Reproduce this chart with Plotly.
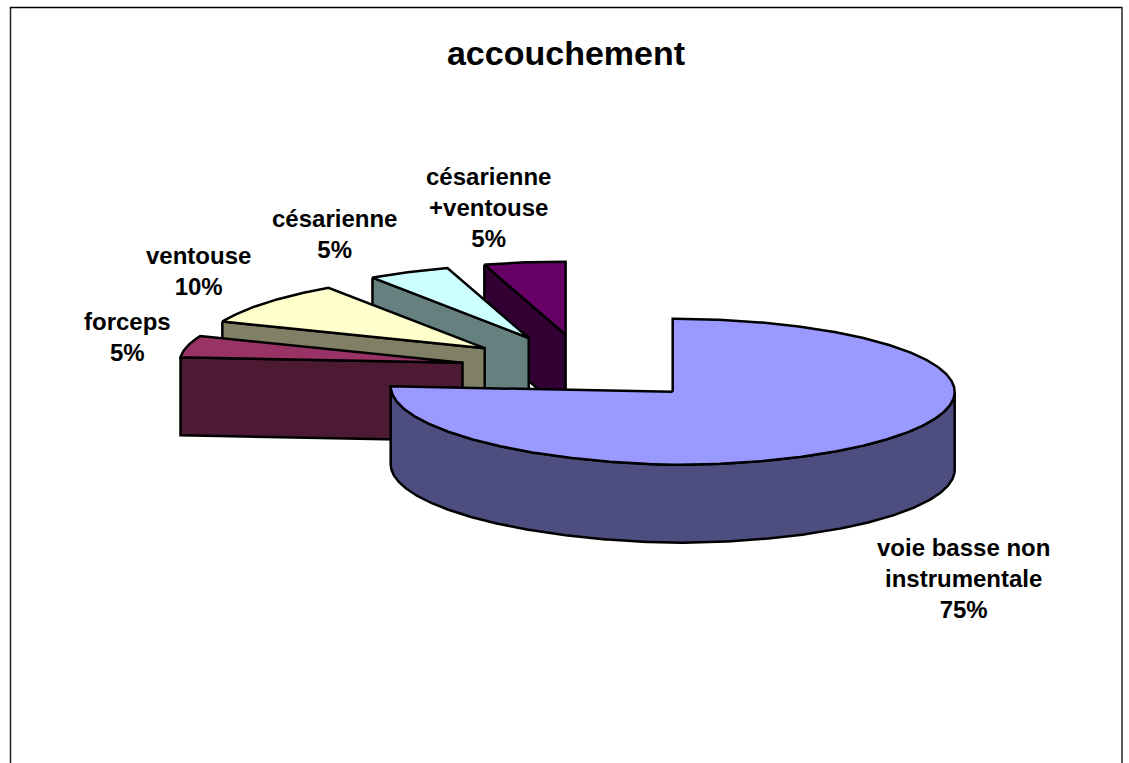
import numpy as np
import plotly.graph_objects as go

categories = ["voie basse non<br>instrumentale", "forceps", "ventouse", "césarienne", "césarienne<br>+ventouse"]
values = [75, 5, 10, 5, 5]
top_colors = ["#9999FF", "#993366", "#FFFFCC", "#CCFFFF", "#660066"]
side_colors = ["#4D4D80", "#4D1A33", "#808066", "#668080", "#330033"]

# layout of the fake 3D pie, in page pixels
CX, CY = 585, 368
RX, RY = 282, 73
DEPTH = 78
EXPLODE_X, EXPLODE_Y = 124, 33.7
LIFT = 5.5
SKEW_X, SKEW_Y = 10, 2
label_pos = [(963, 578), (127, 337), (198, 271), (334, 234), (488, 207)]


def rim(cx, cy, a0, a1):
    # points on the ellipse, angles clockwise from 12 o'clock
    a = np.radians(np.linspace(a0, a1, max(int(abs(a1 - a0)) * 2, 2)))
    x = cx + RX * np.sin(a)
    y = cy - RY * np.cos(a) + LIFT * np.minimum(np.sin(a), 0)
    # back left of the pie looks squeezed by the perspective
    back_left = (np.sin(a) < 0) & (np.cos(a) > 0)
    x = x + SKEW_X * np.abs(np.sin(2 * a)) * back_left
    y = y + SKEW_Y * np.abs(np.sin(2 * a)) * back_left
    return x, y


def poly(fig, x, y, color, name):
    fig.add_trace(
        go.Scatter(
            x=x,
            y=y,
            mode="lines",
            fill="toself",
            fillcolor=color,
            line=dict(color="black", width=2.5),
            name=name,
            hoverinfo="name",
            showlegend=False,
        )
    )


fig = go.Figure()

ends = np.cumsum(values) / np.sum(values) * 360
starts = ends - np.array(values) / np.sum(values) * 360

# back to front: last slice first, big slice on top
for i in [4, 3, 2, 1, 0]:
    a0, a1 = starts[i], ends[i]
    mid = np.radians((a0 + a1) / 2)
    ax = CX + EXPLODE_X * np.sin(mid)
    ay = CY - EXPLODE_Y * np.cos(mid)
    name = categories[i].replace("<br>", " ")

    if a0 < 180 < a1:
        # outer wall, only the front of the rim shows
        wx, wy = rim(ax, ay, 90, 270)
        poly(fig, np.r_[wx, wx[::-1], wx[0]], np.r_[wy, wy[::-1] + DEPTH, wy[0]], side_colors[i], name)
    else:
        # cut wall facing the viewer
        sx, sy = rim(ax, ay, a0, a0)
        wx = [sx[0], ax, ax, sx[0], sx[0]]
        wy = [sy[0], ay, ay + DEPTH, sy[0] + DEPTH, sy[0]]
        poly(fig, wx, wy, side_colors[i], name)

    tx, ty = rim(ax, ay, a0, a1)
    poly(fig, np.r_[ax, tx, ax], np.r_[ay, ty, ay], top_colors[i], name)

    fig.add_annotation(
        x=label_pos[i][0],
        y=label_pos[i][1],
        text=f"<b>{categories[i]}<br>{values[i]}%</b>",
        showarrow=False,
        font=dict(family="Liberation Sans", size=24, color="black"),
        align="center",
    )

# chart frame, open at the bottom
fig.add_shape(type="line", x0=10.5, x1=10.5, y0=7, y1=763, line=dict(color="#222222", width=1.5))
fig.add_shape(type="line", x0=10, x1=1122, y0=7.5, y1=7.5, line=dict(color="black", width=1.5))
fig.add_shape(type="line", x0=1122, x1=1122, y0=7, y1=763, line=dict(color="#222222", width=1.5))

fig.update_layout(
    title=dict(
        text="<b>accouchement</b>",
        x=566 / 1129,
        xanchor="center",
        y=1 - 53 / 763,
        yanchor="middle",
        font=dict(family="Liberation Sans", size=34, color="black"),
    ),
    width=1129,
    height=763,
    margin=dict(l=0, r=0, t=0, b=0),
    paper_bgcolor="white",
    plot_bgcolor="white",
    xaxis=dict(range=[0, 1129], visible=False),
    yaxis=dict(range=[763, 0], visible=False),
    showlegend=False,
)

fig.write_html(
    "out.html",
    config={"displayModeBar": False},
    post_script="document.body.style.margin='0';document.body.style.overflow='hidden';",
)
